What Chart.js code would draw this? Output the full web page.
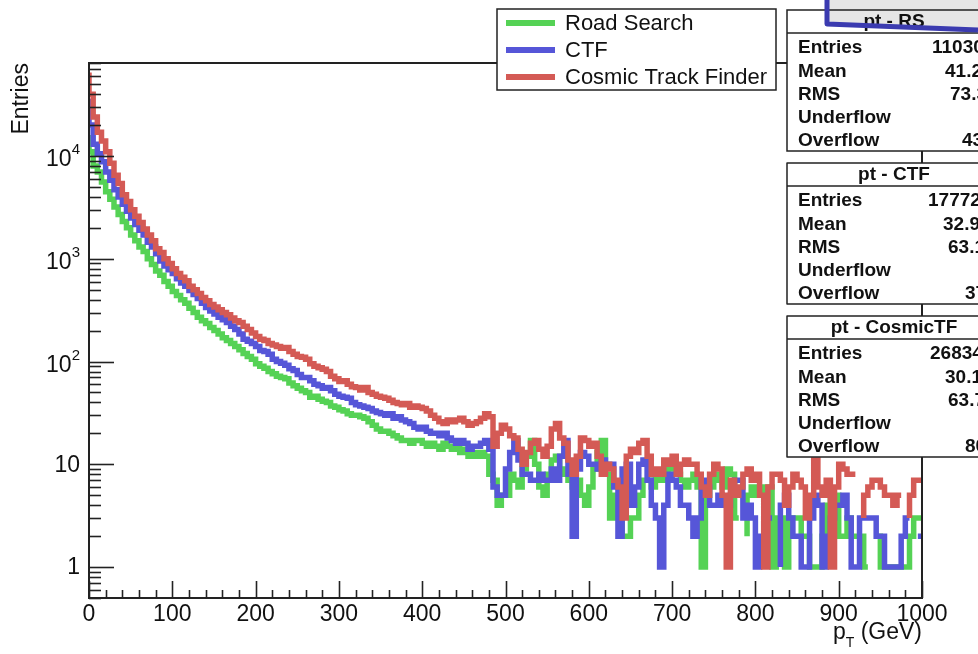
<!DOCTYPE html>
<html>
<head>
<meta charset="utf-8">
<title>pT spectra</title>
<script src="https://cdn.jsdelivr.net/npm/chart.js@4.4.0/dist/chart.umd.min.js"></script>
<style>
  html, body { margin: 0; padding: 0; background: #fff; }
  canvas { display: block; }
</style>
</head>
<body>
<canvas id="pt" width="978" height="654"></canvas>
<script>
// 5 GeV bins from 0 to 1000 GeV
const binWidth = 5;
const nBins = 200;

// Road Search
const roadSearch = [
  16000, 11000, 8000, 7000, 5600, 4500, 3800, 3200, 2700, 2300,
  2000, 1700, 1500, 1300, 1180, 1000, 880, 760, 690, 600,
  540, 480, 440, 400, 370, 330, 300, 270, 250, 235,
  215, 200, 185, 170, 160, 150, 140, 130, 120, 112,
  105, 95, 90, 86, 80, 76, 72, 70, 68, 62,
  58, 55, 52, 50, 45, 46, 43, 41, 40, 37,
  36, 34, 33, 31, 30, 30, 29, 28, 26, 24,
  22, 21, 21, 20, 19, 18, 17, 17, 16, 17,
  17, 16, 15, 16, 15, 14, 16, 15, 14, 15,
  13, 14, 12, 13, 12, 13, 12, 8, 7, 4,
  5, 5, 8, 7, 6, 9, 12, 17, 10, 6,
  5, 8, 11, 12, 8, 9, 7, 6, 7, 5,
  4, 6, 9, 13, 17, 8, 3, 5, 4, 2,
  2, 3, 3, 5, 7, 7, 6, 8, 7, 8,
  9, 10, 8, 7, 6, 7, 8, 6, 1, 5,
  6, 8, 7, 6, 9, 8, 3, 0, 2, 5,
  6, 5, 6, 4, 6, 1, 3, 3, 1, 3,
  3, 3, 2, 2, 1, 1, 1, 2, 4, 5,
  5, 2, 2, 3, 2, 2, 2, 1, 0, 2,
  2, 1, 1, 1, 1, 1, 1, 1, 2, 3
];

// CTF
const ctf = [
  36000, 20000, 13000, 10500, 8800, 7000, 5800, 4700, 4000, 3400,
  2900, 2500, 2150, 1900, 1700, 1450, 1300, 1120, 950, 850,
  780, 720, 640, 580, 540, 490, 450, 410, 370, 335,
  310, 290, 270, 255, 240, 220, 205, 185, 165, 158,
  150, 140, 128, 125, 118, 105, 100, 96, 92, 85,
  82, 75, 70, 70, 65, 60, 58, 55, 56, 52,
  48, 46, 45, 44, 40, 38, 37, 36, 35, 33,
  32, 31, 30, 31, 28, 29, 27, 26, 25, 23,
  22, 23, 21, 20, 20, 19, 20, 18, 17, 16,
  17, 16, 14, 15, 15, 16, 17, 14, 6, 5,
  5, 9, 13, 17, 11, 8, 8, 7, 7, 8,
  7, 7, 9, 7, 12, 17, 8, 2, 9, 13,
  12, 10, 10, 9, 11, 10, 10, 6, 2, 9,
  10, 4, 6, 10, 11, 7, 4, 3, 1, 4,
  8, 7, 6, 4, 4, 3, 2, 3, 7, 6,
  4, 4, 5, 4, 4, 5, 7, 7, 3, 4,
  3, 1, 2, 3, 3, 0, 1, 4, 5, 3,
  2, 2, 1, 1, 3, 5, 4, 1, 2, 3,
  4, 4, 5, 3, 1, 1, 3, 3, 3, 3,
  2, 2, 1, 1, 1, 1, 2, 3, 0, 2
];

// Cosmic Track Finder
const cosmicTF = [
  65000, 40000, 24000, 17000, 14000, 11000, 8500, 6500, 5400, 4200,
  3600, 3000, 2600, 2250, 1950, 1700, 1500, 1250, 1150, 1000,
  900, 800, 720, 660, 610, 540, 500, 460, 420, 390,
  360, 340, 320, 300, 285, 265, 250, 240, 220, 205,
  190, 175, 165, 160, 150, 145, 140, 135, 137, 125,
  118, 112, 110, 105, 95, 90, 87, 84, 80, 72,
  68, 64, 65, 60, 57, 56, 53, 56, 50, 48,
  46, 45, 44, 42, 40, 39, 38, 39, 36, 37,
  36, 35, 33, 30, 28, 26, 25, 27, 26, 27,
  28, 26, 24, 25, 26, 28, 31, 29, 15, 20,
  24, 22, 19, 18, 14, 10, 13, 16, 17, 14,
  12, 15, 22, 25, 18, 16, 11, 8, 12, 18,
  17, 15, 16, 12, 8, 10, 9, 7, 6, 3,
  12, 14, 13, 16, 17, 12, 8, 9, 8, 11,
  10, 12, 8, 10, 11, 10, 10, 8, 6, 5,
  8, 10, 9, 5, 1, 7, 5, 6, 8, 9,
  7, 8, 5, 1, 6, 8, 8, 7, 4, 6,
  8, 7, 6, 3, 5, 11, 6, 5, 7, 1,
  6, 10, 9, 8, 8, 0, 3, 5, 6, 7,
  7, 6, 5, 5, 4, 5, 0, 3, 5, 7
];

const seriesNames = ['Road Search', 'CTF', 'Cosmic Track Finder'];
const seriesColors = ['#55d255', '#5656d8', '#d45a55'];

const xTickValues = [0, 100, 200, 300, 400, 500, 600, 700, 800, 900, 1000];
const xTickLabels = ['0', '100', '200', '300', '400', '500', '600', '700', '800', '900', '1000'];
const yTickValues = [1, 10, 100, 1000, 10000];
const yTickLabels = ['1', '10', '10^2', '10^3', '10^4'];

// stats panels: title, rows, and the value strings shown
const statTitles = ['pt - RS', 'pt - CTF', 'pt - CosmicTF'];
const statRows = ['Entries', 'Mean', 'RMS', 'Underflow', 'Overflow'];
const statValues = [
  ['11030', '41.2', '73.3', '', '43'],
  ['17772', '32.9', '63.1', '', '37'],
  ['26834', '30.1', '63.7', '', '80']
];

const FONT = '"Liberation Sans", Arial, Helvetica, sans-serif';

// turn bin contents into step points (low edges + closing point at the last edge)
function toSteps(values) {
  const pts = values.map((v, i) => ({ x: i * binWidth, y: v }));
  pts.push({ x: nBins * binWidth, y: values[values.length - 1] });
  return pts;
}

const allSeries = [roadSearch, ctf, cosmicTF];

const datasets = allSeries.map((vals, i) => ({
  label: seriesNames[i],
  data: toSteps(vals),
  borderColor: seriesColors[i],
  backgroundColor: seriesColors[i],
  borderWidth: 5.5,
  stepped: 'after',
  pointRadius: 0,
  fill: false,
  borderJoinStyle: 'miter',
  borderCapStyle: 'butt',
  order: 3 - i   // red ends up on top
}));

function seg(ctx, x1, y1, x2, y2) {
  ctx.beginPath();
  ctx.moveTo(x1, y1);
  ctx.lineTo(x2, y2);
  ctx.stroke();
}

// x where each stat value starts, per row
const valueX = [
  [932, 945, 950, 0, 962],
  [928, 943, 948, 0, 965],
  [930, 945, 948, 0, 965]
];

const rootFrame = {
  id: 'rootFrame',
  afterDatasetsDraw(chart) {
    const { ctx, chartArea: a, scales } = chart;
    const x = scales.x, y = scales.y;
    ctx.save();

    // frame
    ctx.strokeStyle = '#222';
    ctx.lineWidth = 2;
    ctx.strokeRect(a.left, a.top, a.right - a.left, a.bottom - a.top);

    // x ticks, inward
    ctx.lineWidth = 1.6;
    for (let v = 0; v <= 1000; v += 20) {
      const px = Math.round(x.getPixelForValue(v)) + 0.5;
      const len = v % 100 === 0 ? 17 : 8;
      seg(ctx, px, a.bottom, px, a.bottom - len);
    }

    // y ticks (log), inward
    for (let d = -1; d <= 4; d++) {
      for (let k = 1; k <= 9; k++) {
        const v = k * Math.pow(10, d);
        if (v < y.min || v > y.max) continue;
        const py = Math.round(y.getPixelForValue(v)) + 0.5;
        const len = k === 1 ? 25 : 12;
        seg(ctx, a.left, py, a.left + len, py);
      }
    }

    // x labels
    ctx.fillStyle = '#111';
    ctx.font = '23px ' + FONT;
    ctx.textAlign = 'center';
    ctx.textBaseline = 'middle';
    xTickValues.forEach((v, i) => {
      ctx.fillText(xTickLabels[i], x.getPixelForValue(v), a.bottom + 17);
    });

    // y labels with superscripts
    yTickValues.forEach((v, i) => {
      const py = y.getPixelForValue(v);
      const parts = yTickLabels[i].split('^');
      const right = a.left - 9;
      if (parts.length === 1) {
        ctx.font = '23px ' + FONT;
        ctx.textAlign = 'right';
        ctx.fillText(parts[0], right, py + 1);
      } else {
        ctx.font = '15px ' + FONT;
        ctx.textAlign = 'right';
        const ew = ctx.measureText(parts[1]).width;
        ctx.fillText(parts[1], right, py - 6);
        ctx.font = '23px ' + FONT;
        ctx.fillText(parts[0], right - ew, py + 4);
      }
    });

    // axis titles
    ctx.font = '23px ' + FONT;
    ctx.save();
    ctx.translate(22, a.top);
    ctx.rotate(-Math.PI / 2);
    ctx.textAlign = 'right';
    ctx.fillText('Entries', 0, 0);
    ctx.restore();

    ctx.textAlign = 'left';
    const gev = ' (GeV)';
    const gw = ctx.measureText(gev).width;
    ctx.font = '14px ' + FONT;
    const tw = ctx.measureText('T').width;
    ctx.font = '23px ' + FONT;
    const pw = ctx.measureText('p').width;
    const tx = a.right - gw - tw - pw;
    ctx.fillText('p', tx, 633);
    ctx.fillText(gev, tx + pw + tw, 633);
    ctx.font = '14px ' + FONT;
    ctx.fillText('T', tx + pw, 643);

    // legend box
    const lg = { l: 497, t: 9, r: 776, b: 90 };
    ctx.fillStyle = '#fff';
    ctx.fillRect(lg.l, lg.t, lg.r - lg.l, lg.b - lg.t);
    ctx.strokeStyle = '#222';
    ctx.lineWidth = 1.5;
    ctx.strokeRect(lg.l, lg.t, lg.r - lg.l, lg.b - lg.t);
    ctx.font = '22px ' + FONT;
    ctx.textBaseline = 'middle';
    seriesNames.forEach((name, i) => {
      const ly = 23 + i * 27;
      ctx.strokeStyle = seriesColors[i];
      ctx.lineWidth = 6;
      seg(ctx, 506, ly, 555, ly);
      ctx.fillStyle = '#111';
      ctx.fillText(name, 565, ly + 1);
    });

    // stats panels
    const boxTops = [10, 163, 316];
    boxTops.forEach((top, b) => {
      const left = 787, right = 990;
      const bottom = top + 141;
      ctx.fillStyle = '#fff';
      ctx.fillRect(left, top, right - left, bottom - top);
      if (b === 0) {
        // shaded header strip marked out in blue
        ctx.fillStyle = '#e6e6e6';
        ctx.beginPath();
        ctx.moveTo(827, 0);
        ctx.lineTo(978, 0);
        ctx.lineTo(978, 30);
        ctx.lineTo(827, 24);
        ctx.closePath();
        ctx.fill();
      }
      ctx.strokeStyle = '#222';
      ctx.lineWidth = 1.5;
      ctx.strokeRect(left, top, right - left, bottom - top);
      seg(ctx, left, top + 23, right, top + 23);
      ctx.fillStyle = '#111';
      ctx.font = 'bold 19px ' + FONT;
      ctx.textAlign = 'center';
      ctx.fillText(statTitles[b], 894, top + 12);
      ctx.textAlign = 'left';
      statRows.forEach((row, r) => {
        const ry = top + 38 + r * 23.3;
        ctx.fillText(row, 798, ry);
        const val = statValues[b][r];
        if (val) ctx.fillText(val, valueX[b][r], ry);
      });
      if (b === 0) {
        ctx.strokeStyle = '#3b3bb0';
        ctx.lineWidth = 5;
        ctx.lineJoin = 'round';
        ctx.beginPath();
        ctx.moveTo(827, 0);
        ctx.lineTo(827, 24);
        ctx.lineTo(978, 30);
        ctx.stroke();
      }
    });

    ctx.restore();
  }
};

new Chart(document.getElementById('pt').getContext('2d'), {
  type: 'line',
  data: { datasets },
  options: {
    responsive: false,
    animation: false,
    devicePixelRatio: 1,
    layout: { padding: { left: 89, right: 56, top: 63, bottom: 56 } },
    scales: {
      x: { type: 'linear', min: 0, max: 1000, display: false },
      y: { type: 'logarithmic', min: 0.5, max: 80400, display: false }
    },
    plugins: {
      legend: { display: false },
      tooltip: { enabled: false }
    }
  },
  plugins: [rootFrame]
});
</script>
</body>
</html>
